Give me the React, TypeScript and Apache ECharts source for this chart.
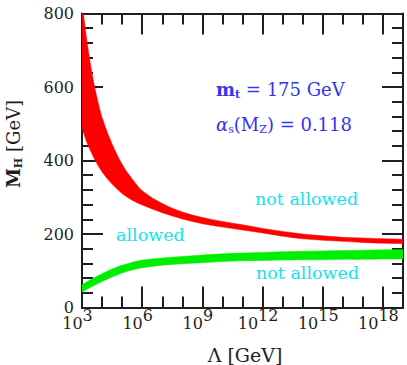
import React, { useEffect, useRef } from "react";
import * as echarts from "echarts";

// log10 of the cut-off scale Λ (GeV)
const lambdaExp = [3, 3.25, 3.5, 3.75, 4, 4.5, 5, 5.5, 6, 7, 8, 9, 10, 11, 12, 13, 14, 15, 16, 17, 18, 19];

// triviality (upper) bound on M_H: band edges in GeV
const trivialityHigh = [830, 723, 637, 570, 517, 445, 390, 350, 318, 283, 260, 245, 234, 225, 215, 207, 200, 195, 191, 189, 187, 186];
const trivialityLow = [490, 448, 418, 391, 369, 336, 310, 292, 279, 258, 241, 228, 219, 211, 203, 194, 187, 183, 180, 177, 175, 174];

// vacuum-stability (lower) bound on M_H: band edges in GeV
const stabilityHigh = [62, 70, 78, 85, 92, 105, 115, 123, 129, 135, 139, 143, 146, 148, 150, 152, 153, 154, 155, 156, 157, 158];
const stabilityLow = [42, 50, 57, 64, 71, 83, 94, 102, 108, 115, 119, 122, 125, 127, 128, 129, 130, 130, 131, 131, 132, 132];

const xMajorTicks = [3, 6, 9, 12, 15, 18];
const yTicks = [0, 200, 400, 600, 800];

const SERIF = "DejaVu Serif";
const INK = "#1e1e1e";
const BLUE = "#3434f0";
const CYAN = "#12e4ee";
const RED = "#ff0000";
const GREEN = "#00ee00";

const frameLine = { color: INK, width: 2 };

// Cubic Hermite segments through pixel points ordered along x, slopes taken from neighbours.
function smoothEdge(pts: number[][], moveFirst: boolean): string {
  const n = pts.length;
  const slope = (i: number) => {
    const a = pts[Math.max(0, i - 1)];
    const b = pts[Math.min(n - 1, i + 1)];
    return (b[1] - a[1]) / (b[0] - a[0]);
  };
  let d = (moveFirst ? "M" : "L") + pts[0][0] + "," + pts[0][1];
  for (let i = 0; i < n - 1; i++) {
    const p = pts[i];
    const q = pts[i + 1];
    const h = (q[0] - p[0]) / 3;
    const m0 = slope(i);
    const m1 = slope(i + 1);
    d += `C${p[0] + h},${p[1] + m0 * h} ${q[0] - h},${q[1] - m1 * h} ${q[0]},${q[1]}`;
  }
  return d;
}

// A filled band between two edge curves, placed through the chart's own coordinate system.
function band(name: string, lo: number[], hi: number[], color: string) {
  return {
    name,
    type: "custom",
    clip: true,
    silent: true,
    z: 2,
    data: lambdaExp.map((x, i) => [x, lo[i], hi[i]]),
    encode: { x: 0, y: [1, 2] },
    renderItem: (params: any, api: any) => {
      if (params.dataIndex !== 0) return null;
      const n = lambdaExp.length;
      const top: number[][] = [];
      const bottom: number[][] = [];
      for (let i = 0; i < n; i++) {
        top.push(api.coord([api.value(0, i), api.value(2, i)]));
        bottom.push(api.coord([api.value(0, i), api.value(1, i)]));
      }
      // upper edge left→right, then lower edge right→left
      const pathData = smoothEdge(top, true) + smoothEdge(bottom.slice().reverse(), false) + "Z";
      return {
        type: "path",
        shape: { pathData },
        style: { fill: color, stroke: color, lineWidth: 0.5 },
      };
    },
  };
}

function xAxis(position: "bottom" | "top", interval: number, tickLen: number, labels: boolean) {
  return {
    type: "value",
    position,
    min: lambdaExp[0],
    max: lambdaExp[lambdaExp.length - 1],
    interval,
    axisLine: { show: true, onZero: false, lineStyle: frameLine },
    axisTick: { show: true, inside: true, length: tickLen, lineStyle: frameLine },
    splitLine: { show: false },
    axisLabel: labels
      ? {
          show: true,
          margin: 0,
          showMaxLabel: false,
          padding: [0, 9, 0, 0],
          formatter: (v: number) => (xMajorTicks.includes(v) ? `{b|10}{s|${v}}` : ""),
          rich: {
            b: { fontFamily: SERIF, fontSize: 16, color: INK, lineHeight: 24, verticalAlign: "bottom" },
            s: { fontFamily: SERIF, fontSize: 16, color: INK, lineHeight: 24, verticalAlign: "top" },
          },
        }
      : { show: false },
  };
}

export default function App() {
  const ref = useRef<HTMLDivElement>(null);

  useEffect(() => {
    document.body.style.margin = "0";
    const chart = echarts.init(ref.current!, null, { renderer: "svg" });
    chart.setOption({
      animation: false,
      backgroundColor: "#ffffff",
      grid: { left: 82, right: 4, top: 13.5, bottom: 57.5, containLabel: false },
      xAxis: [
        xAxis("bottom", 3, 21, true),
        xAxis("bottom", 1, 11, false),
        xAxis("top", 3, 21, false),
        xAxis("top", 1, 11, false),
      ],
      yAxis: [
        {
          type: "value",
          position: "left",
          min: yTicks[0],
          max: yTicks[yTicks.length - 1],
          interval: 200,
          axisLine: { show: true, lineStyle: frameLine },
          axisTick: { show: true, inside: true, length: 21, lineStyle: frameLine },
          minorTick: { show: true, splitNumber: 5, length: 11, lineStyle: frameLine },
          splitLine: { show: false },
          axisLabel: { show: true, margin: 8, fontFamily: SERIF, fontSize: 16, color: INK },
        },
        {
          type: "value",
          position: "right",
          min: yTicks[0],
          max: yTicks[yTicks.length - 1],
          interval: 200,
          axisLine: { show: true, lineStyle: frameLine },
          axisTick: { show: true, inside: true, length: 21, lineStyle: frameLine },
          minorTick: { show: true, splitNumber: 5, length: 11, lineStyle: frameLine },
          splitLine: { show: false },
          axisLabel: { show: false },
        },
      ],
      series: [
        band("triviality", trivialityLow, trivialityHigh, RED),
        band("stability", stabilityLow, stabilityHigh, GREEN),
      ],
      graphic: [
        {
          type: "text",
          x: 14,
          y: 144,
          rotation: Math.PI / 2,
          style: {
            text: "{m|M}{h|H}{g| [GeV]}",
            align: "center",
            verticalAlign: "middle",
            rich: {
              m: { fontFamily: SERIF, fontSize: 18, fontWeight: "bold", fill: INK, lineHeight: 20, verticalAlign: "top" },
              h: { fontFamily: SERIF, fontSize: 11, fontWeight: "bold", fill: INK, lineHeight: 20, verticalAlign: "bottom" },
              g: { fontFamily: SERIF, fontSize: 18, fill: INK, lineHeight: 20, verticalAlign: "top" },
            },
          },
        },
        {
          type: "text",
          x: 245,
          y: 355,
          style: {
            text: "Λ [GeV]",
            align: "center",
            verticalAlign: "middle",
            fontFamily: SERIF,
            fontSize: 19,
            fill: INK,
          },
        },
        {
          type: "text",
          x: 216,
          y: 90,
          style: {
            text: "{m|m}{t|t}{n| = 175 GeV}",
            align: "left",
            verticalAlign: "middle",
            rich: {
              m: { fontFamily: SERIF, fontSize: 18, fontWeight: "bold", fill: BLUE, lineHeight: 20, verticalAlign: "top" },
              t: { fontFamily: SERIF, fontSize: 11, fontWeight: "bold", fill: BLUE, lineHeight: 20, verticalAlign: "bottom" },
              n: { fontFamily: SERIF, fontSize: 18, fill: BLUE, lineHeight: 20, verticalAlign: "top" },
            },
          },
        },
        {
          type: "text",
          x: 216,
          y: 125,
          style: {
            text: "{a|α}{s|s}{n|(M}{z|Z}{n|) = 0.118}",
            align: "left",
            verticalAlign: "middle",
            rich: {
              a: { fontFamily: SERIF, fontSize: 18, fontStyle: "italic", fill: BLUE, lineHeight: 20, verticalAlign: "top" },
              s: { fontFamily: SERIF, fontSize: 11, fill: BLUE, lineHeight: 20, verticalAlign: "bottom" },
              n: { fontFamily: SERIF, fontSize: 18, fill: BLUE, lineHeight: 20, verticalAlign: "top" },
              z: { fontFamily: SERIF, fontSize: 11, fill: BLUE, lineHeight: 20, verticalAlign: "bottom" },
            },
          },
        },
        {
          type: "text",
          x: 116,
          y: 235,
          style: { text: "allowed", fontFamily: SERIF, fontSize: 17.5, fill: CYAN, align: "left", verticalAlign: "middle" },
        },
        {
          type: "text",
          x: 255,
          y: 199,
          style: { text: "not allowed", fontFamily: SERIF, fontSize: 17.5, fill: CYAN, align: "left", verticalAlign: "middle" },
        },
        {
          type: "text",
          x: 256,
          y: 273,
          style: { text: "not allowed", fontFamily: SERIF, fontSize: 17.5, fill: CYAN, align: "left", verticalAlign: "middle" },
        },
      ],
    });
    return () => chart.dispose();
  }, []);

  return <div ref={ref} style={{ position: "absolute", left: 0, top: 0, width: 407, height: 365 }} />;
}
